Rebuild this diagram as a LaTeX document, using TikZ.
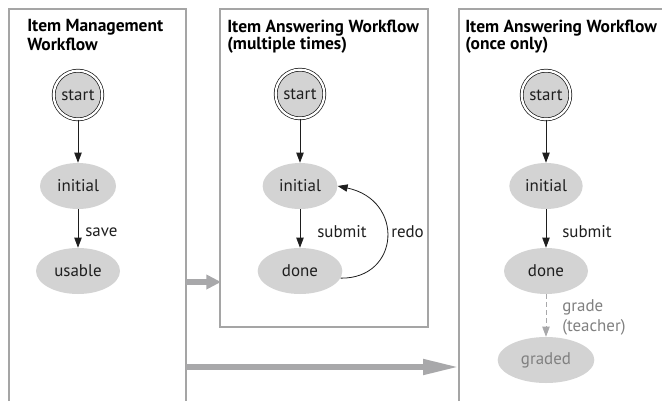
\documentclass[tikz,border=0pt]{standalone}
\usepackage{fontspec}
\setmainfont{PT Sans}
\usetikzlibrary{arrows.meta,shapes.geometric}
\definecolor{stategray}{RGB}{211,211,211}
\definecolor{framegray}{RGB}{165,165,165}
\definecolor{flowgray}{RGB}{168,168,170}
\definecolor{softtext}{RGB}{128,128,128}
\definecolor{inktext}{RGB}{30,30,30}
\tikzset{
  frame/.style={draw=framegray, line width=0.8pt},
  title/.style={anchor=base west, inner sep=0pt, font=\fontsize{13.1}{16}\selectfont\bfseries, text=black},
  state/.style={ellipse, fill=stategray, inner sep=0pt, minimum height=34.5pt,
    font=\fontsize{12.7}{14}\selectfont, text=inktext},
  startstate/.style={circle, fill=stategray, draw=inktext, line width=0.55pt,
    double=white, double distance=1.7pt, minimum size=36.5pt, inner sep=0pt,
    font=\fontsize{12.7}{14}\selectfont, text=inktext},
  trans/.style={draw=inktext, line width=0.6pt, -{Triangle[length=7.5pt,width=5.5pt]}},
  translabel/.style={anchor=west, inner sep=0pt, font=\fontsize{12.7}{14}\selectfont, text=inktext},
  flow/.style={draw=flowgray, line width=4.3pt},
}
\begin{document}
\begin{tikzpicture}[x=0.75pt, y=-0.75pt]
\useasboundingbox (0,0) rectangle (662,401);

% frames of the three workflows
\draw[frame] (9,401) -- (9,9) -- (186,9) -- (186,401);
\draw[frame] (220,9) rectangle (428,327);
\draw[frame] (459,401) -- (459,9) -- (662,9);

% titles
\node[title] (t1a) at (27,31) {Item Management};
\node[title] (t1b) at (27,50) {Workflow};
\node[title] (t2a) at (227,32) {Item Answering Workflow};
\node[title] (t2b) at (227,49) {(multiple times)};
\node[title] (t3a) at (465,32) {Item Answering Workflow};
\node[title] (t3b) at (465,49) {(once only)};

% item management workflow
\node[startstate] (s1) at (78,95) {start};
\node[state, minimum width=57pt] (i1) at (78,186) {initial};
\node[state, minimum width=63pt] (u1) at (78,271) {usable};
\draw[trans] (s1) -- (i1);
\draw[trans] (i1) -- (u1);
\node[translabel] (l1) at (85,232) {save};

% item answering workflow, multiple times
\node[startstate] (s2) at (300,94) {start};
\node[state, minimum width=56pt] (i2) at (300,186) {initial};
\node[state, minimum width=63.5pt] (d2) at (300,271) {done};
\draw[trans] (s2) -- (i2);
\draw[trans] (i2) -- (d2);
\draw[trans] (d2.-10) .. controls (400,279) and (405,200) .. (i2.east);
\node[translabel] (l2) at (317,232) {submit};
\node[translabel] (l3) at (391,232) {redo};

% item answering workflow, once only
\node[startstate] (s3) at (546,95) {start};
\node[state, minimum width=55pt] (i3) at (546,186) {initial};
\node[state, minimum width=63pt] (d3) at (546,271) {done};
\node[state, minimum width=72.5pt, text=softtext] (g3) at (546,360) {graded};
\draw[trans] (s3) -- (i3);
\draw[trans] (i3) -- (d3);
\draw[draw=flowgray, line width=0.6pt, dash pattern=on 3.5pt off 2.5pt,
  -{Triangle[length=7.5pt,width=5.5pt,fill=flowgray]}] (d3) -- (g3);
\node[translabel] (l4) at (562,232) {submit};
\node[translabel, align=left, text=softtext, font=\fontsize{12.7}{15}\selectfont] (l5) at (562,317) {grade\\(teacher)};

% hand-over arrows between workflows
\coordinate (o1) at (186,282);
\coordinate (e1) at (221,282);
\coordinate (o2) at (186,367);
\coordinate (e2) at (459,367);
\draw[flow, -{Triangle[length=11pt,width=10.5pt]}] (o1) -- (e1);
\draw[flow, -{Triangle[length=27pt,width=11pt]}] (o2) -- (e2);
\end{tikzpicture}
\end{document}
